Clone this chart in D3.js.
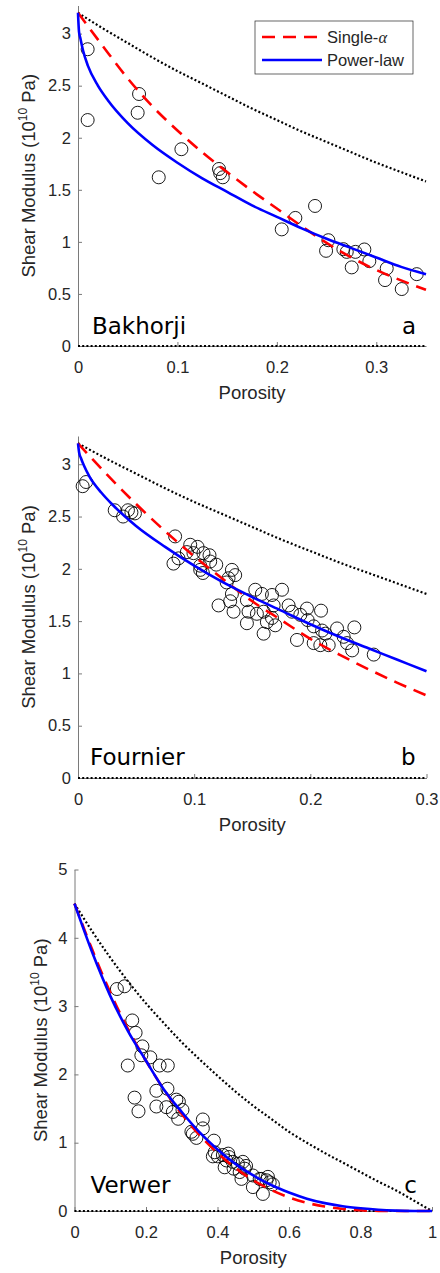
<!DOCTYPE html>
<html>
<head>
<meta charset="utf-8">
<script src="https://cdn.jsdelivr.net/npm/d3@7"></script>
<style>
body { margin: 0; background: #fff; }
svg { display: block; font-family: "Liberation Sans", Arial, Helvetica, sans-serif; }
</style>
</head>
<body>
<svg width="440" height="1273"></svg>
<script>
// ---- values ----

// panel a : Bakhorji
const bakPhi = [0.0097, 0.0097, 0.0614, 0.060, 0.0812, 0.104, 0.1418, 0.143, 0.1456, 0.2049, 0.2186, 0.2384,
  0.2518, 0.2495, 0.2669, 0.2703, 0.279, 0.288, 0.2753, 0.293, 0.3105, 0.3088, 0.3256, 0.3407];
const bakMu = [2.85, 2.17, 2.42, 2.24, 1.62, 1.89, 1.70, 1.66, 1.62, 1.12, 1.23, 1.345,
  1.016, 0.914, 0.93, 0.904, 0.904, 0.927, 0.755, 0.815, 0.745, 0.633, 0.547, 0.69];

const gridA = [0, 0.025, 0.05, 0.075, 0.1, 0.125, 0.15, 0.175, 0.2, 0.225, 0.25, 0.275, 0.3, 0.325, 0.35];
const boundA = [3.2, 3.05, 2.91, 2.77, 2.64, 2.52, 2.40, 2.28, 2.17, 2.06, 1.96, 1.86, 1.76, 1.67, 1.58];
const singleA = [3.2, 2.88, 2.57, 2.30, 2.07, 1.86, 1.67, 1.49, 1.32, 1.15, 0.99, 0.85, 0.73, 0.63, 0.54];
const powerAPhi = [0, 0.001, 0.0025, 0.005, 0.01, 0.02, 0.03, 0.05, 0.075, 0.1, 0.125, 0.15, 0.175, 0.2,
  0.225, 0.25, 0.275, 0.3, 0.325, 0.35];
const powerA = [3.2, 3.02, 2.95, 2.84, 2.69, 2.50, 2.36, 2.14, 1.93, 1.76, 1.61, 1.48, 1.35, 1.24,
  1.13, 1.03, 0.94, 0.85, 0.76, 0.69];

// panel b : Fournier
const fouPhi = [0.004, 0.007, 0.0316, 0.0388, 0.043, 0.046, 0.049,
  0.0836, 0.0966, 0.1029, 0.0937, 0.0994, 0.108, 0.1132, 0.0865, 0.0822, 0.1052, 0.1138, 0.119, 0.1052,
  0.1075, 0.1325, 0.1353, 0.1296, 0.128, 0.121, 0.1325, 0.131,
  0.1339, 0.1454, 0.1468, 0.1526, 0.1583, 0.167, 0.1756, 0.1684, 0.1598, 0.154, 0.1454, 0.1598, 0.1626,
  0.167, 0.1698, 0.1813, 0.1842, 0.1914, 0.1971, 0.1977, 0.2092, 0.2029, 0.2101, 0.2129, 0.1885, 0.2029,
  0.2086, 0.2158, 0.223, 0.2287, 0.2316, 0.2379, 0.236, 0.2546];
const fouMu = [2.79, 2.83, 2.56, 2.50, 2.56, 2.54, 2.53,
  2.31, 2.23, 2.21, 2.16, 2.15, 2.15, 2.13, 2.10, 2.05, 2.03, 2.07, 2.04, 1.99,
  1.96, 1.99, 1.94, 1.91, 1.87, 1.65, 1.76, 1.69,
  1.59, 1.70, 1.59, 1.80, 1.76, 1.75, 1.80, 1.65, 1.59, 1.57, 1.48, 1.38, 1.49,
  1.53, 1.46, 1.65, 1.59, 1.56, 1.62, 1.51, 1.60, 1.45, 1.41, 1.38, 1.32, 1.29,
  1.27, 1.27, 1.43, 1.35, 1.29, 1.44, 1.22, 1.18];

const gridB = [0, 0.025, 0.05, 0.075, 0.1, 0.125, 0.15, 0.175, 0.2, 0.225, 0.25, 0.275, 0.3];
const boundB = [3.2, 3.05, 2.91, 2.77, 2.64, 2.52, 2.40, 2.28, 2.17, 2.06, 1.96, 1.86, 1.76];
const singleB = [3.2, 2.90, 2.62, 2.36, 2.12, 1.90, 1.69, 1.51, 1.33, 1.18, 1.04, 0.91, 0.79];
const powerBPhi = [0, 0.001, 0.0025, 0.005, 0.01, 0.02, 0.03, 0.05, 0.075, 0.1, 0.125, 0.15, 0.175, 0.2,
  0.225, 0.25, 0.275, 0.3];
const powerB = [3.2, 3.11, 3.06, 2.99, 2.88, 2.73, 2.61, 2.41, 2.21, 2.03, 1.87, 1.73, 1.60, 1.47,
  1.35, 1.24, 1.13, 1.02];

// panel c : Verwer
const verPhi = [0.1186, 0.14, 0.1615, 0.1709, 0.19, 0.187, 0.212, 0.149, 0.238, 0.261, 0.168, 0.179, 0.229,
  0.26, 0.229, 0.257, 0.285, 0.292, 0.275, 0.302, 0.29, 0.327, 0.341, 0.359, 0.359, 0.39, 0.387, 0.401,
  0.415, 0.432, 0.42, 0.443, 0.457, 0.471, 0.462, 0.476, 0.467, 0.499, 0.499, 0.523, 0.537, 0.527, 0.546,
  0.555, 0.541, 0.331, 0.392, 0.43, 0.425, 0.518, 0.48, 0.445];
const verMu = [3.25, 3.29, 2.79, 2.61, 2.41, 2.28, 2.25, 2.13, 2.13, 2.13, 1.66, 1.46, 1.76,
  1.79, 1.53, 1.52, 1.63, 1.60, 1.45, 1.48, 1.35, 1.16, 1.07, 1.34, 1.21, 1.03, 0.80, 0.80,
  0.82, 0.79, 0.64, 0.72, 0.69, 0.72, 0.57, 0.62, 0.47, 0.52, 0.35, 0.47, 0.45, 0.25, 0.42,
  0.39, 0.50, 1.13, 0.86, 0.84, 0.74, 0.47, 0.66, 0.62];

const gridC = [0, 0.05, 0.1, 0.15, 0.2, 0.25, 0.3, 0.35, 0.4, 0.45, 0.5, 0.55, 0.6, 0.65, 0.7, 0.75,
  0.8, 0.85, 0.9, 0.95, 1];
const boundC = [4.5, 4.09, 3.71, 3.36, 3.04, 2.75, 2.47, 2.22, 1.98, 1.75, 1.54, 1.35, 1.16, 1.00, 0.85,
  0.71, 0.57, 0.43, 0.30, 0.15, 0];
const singleC = [4.5, 3.82, 3.20, 2.66, 2.20, 1.78, 1.42, 1.11, 0.85, 0.63, 0.45, 0.31, 0.20, 0.12, 0.065,
  0.03, 0.01, 0.002, 0, 0, 0];
const powerC = [4.5, 3.78, 3.15, 2.63, 2.20, 1.78, 1.45, 1.15, 0.90, 0.69, 0.52, 0.38, 0.27, 0.18, 0.115,
  0.07, 0.04, 0.018, 0.006, 0.001, 0];

// tick labels
const xTicksAB = [0, 0.1, 0.2, 0.3];
const yTicksAB = [0, 0.5, 1, 1.5, 2, 2.5, 3];
const xTicksC = [0, 0.2, 0.4, 0.6, 0.8, 1];
const yTicksC = [0, 1, 2, 3, 4, 5];

var svg = d3.select("svg");
var textCol = "#262626", axisCol = "#7a7a7a";

function zip(xs, ys) { return xs.map(function(v, i) { return [v, ys[i]]; }); }

function panel(p) {
  var x = d3.scaleLinear().domain(p.xDom).range(p.xRange),
      y = d3.scaleLinear().domain(p.yDom).range(p.yRange);
  var g = svg.append("g");

  // axes, ticks pointing inward like matlab
  var ax = g.append("g")
      .attr("transform", "translate(0," + p.yRange[0] + ")")
      .call(d3.axisBottom(x).tickValues(p.xTicks).tickSize(-4).tickSizeOuter(0).tickPadding(15)
        .tickFormat(d3.format("~g")));
  var ay = g.append("g")
      .attr("transform", "translate(" + p.xRange[0] + ",0)")
      .call(d3.axisLeft(y).tickValues(p.yTicks).tickSize(-4).tickSizeOuter(0).tickPadding(7)
        .tickFormat(d3.format("~g")));
  [ax, ay].forEach(function(a) {
    a.attr("font-family", null).attr("font-size", 16.5);
    a.select(".domain").attr("stroke", axisCol);
    a.selectAll(".tick line").attr("stroke", axisCol);
    a.selectAll(".tick text").attr("fill", textCol);
  });

  g.append("text")
      .attr("x", (p.xRange[0] + p.xRange[1]) / 2)
      .attr("y", p.yRange[0] + 53)
      .attr("text-anchor", "middle")
      .attr("font-size", 18.5)
      .attr("fill", textCol)
      .text("Porosity");

  var yl = g.append("text")
      .attr("transform", "translate(" + p.yLabelX + "," + (p.yRange[0] + p.yRange[1]) / 2 + ") rotate(-90)")
      .attr("text-anchor", "middle")
      .attr("font-size", 18.5)
      .attr("fill", textCol);
  yl.append("tspan").text("Shear Modulus (10");
  yl.append("tspan").attr("font-size", 12).attr("dy", -8).text("10");
  yl.append("tspan").attr("dy", 8).text(" Pa)");

  // data
  g.selectAll("circle.pt")
    .data(zip(p.phi, p.mu))
    .enter().append("circle")
      .attr("class", "pt")
      .attr("cx", function(d) { return x(d[0]); })
      .attr("cy", function(d) { return y(d[1]); })
      .attr("r", 6.5)
      .attr("fill", "none")
      .attr("stroke", "#000")
      .attr("stroke-width", 0.9);

  var line = d3.line()
      .x(function(d) { return x(d[0]); })
      .y(function(d) { return y(d[1]); })
      .curve(d3.curveMonotoneX);

  // bounds (dotted)
  g.append("path")
      .attr("d", line(zip(p.grid, p.bound)))
      .attr("fill", "none").attr("stroke", "#000").attr("stroke-width", 2.2)
      .attr("stroke-dasharray", "2,2.2");
  g.append("path")
      .attr("d", line([[p.xDom[0], 0], [p.xDom[1], 0]]))
      .attr("fill", "none").attr("stroke", "#000").attr("stroke-width", 2.2)
      .attr("stroke-dasharray", "2,2.2");

  g.append("path")
      .attr("d", line(zip(p.grid, p.single)))
      .attr("fill", "none").attr("stroke", "#ff0000").attr("stroke-width", 2.6)
      .attr("stroke-dasharray", "13,8");
  g.append("path")
      .attr("d", line(zip(p.powerPhi, p.power)))
      .attr("fill", "none").attr("stroke", "#0000ff").attr("stroke-width", 2.6);

  g.append("text")
      .attr("x", p.xRange[0] + p.nameDx)
      .attr("y", p.yRange[0] - p.nameDy)
      .attr("font-family", "DejaVu Sans")
      .attr("font-size", 23)
      .text(p.name);
  g.append("text")
      .attr("x", p.xRange[1] - p.letterDx)
      .attr("y", p.yRange[0] - p.nameDy)
      .attr("text-anchor", "end")
      .attr("font-family", "DejaVu Sans")
      .attr("font-size", 23)
      .text(p.letter);
}

panel({
  xDom: [0, 0.35], xRange: [78, 426], yDom: [0, 3.27], yRange: [346, 5.5],
  xTicks: xTicksAB, yTicks: yTicksAB, yLabelX: 35,
  phi: bakPhi, mu: bakMu, grid: gridA, bound: boundA, single: singleA,
  powerPhi: powerAPhi, power: powerA,
  name: "Bakhorji", letter: "a", nameDx: 14, nameDy: 12, letterDx: 10
});
panel({
  xDom: [0, 0.3], xRange: [78, 426.5], yDom: [0, 3.27], yRange: [778, 436],
  xTicks: xTicksAB, yTicks: yTicksAB, yLabelX: 35,
  phi: fouPhi, mu: fouMu, grid: gridB, bound: boundB, single: singleB,
  powerPhi: powerBPhi, power: powerB,
  name: "Fournier", letter: "b", nameDx: 12, nameDy: 13, letterDx: 11
});
panel({
  xDom: [0, 1], xRange: [74.5, 432], yDom: [0, 5], yRange: [1211, 869.5],
  xTicks: xTicksC, yTicks: yTicksC, yLabelX: 47,
  phi: verPhi, mu: verMu, grid: gridC, bound: boundC, single: singleC,
  powerPhi: gridC, power: powerC,
  name: "Verwer", letter: "c", nameDx: 16, nameDy: 18, letterDx: 15
});

// legend (panel a)
var leg = svg.append("g").attr("transform", "translate(255,21)");
leg.append("rect").attr("width", 158).attr("height", 53)
    .attr("fill", "#fff").attr("stroke", "#262626").attr("stroke-width", 0.7);
leg.append("line").attr("x1", 7).attr("x2", 67).attr("y1", 16).attr("y2", 16)
    .attr("stroke", "#ff0000").attr("stroke-width", 2.6).attr("stroke-dasharray", "13,8");
leg.append("line").attr("x1", 7).attr("x2", 67).attr("y1", 39).attr("y2", 39)
    .attr("stroke", "#0000ff").attr("stroke-width", 2.6);
var t1 = leg.append("text").attr("x", 72).attr("y", 22).attr("font-size", 16.5).attr("fill", textCol);
t1.append("tspan").text("Single-");
t1.append("tspan").attr("font-family", "Liberation Serif").attr("font-style", "italic").text("α");
leg.append("text").attr("x", 72).attr("y", 45).attr("font-size", 16.5).attr("fill", textCol).text("Power-law");
</script>
</body>
</html>
